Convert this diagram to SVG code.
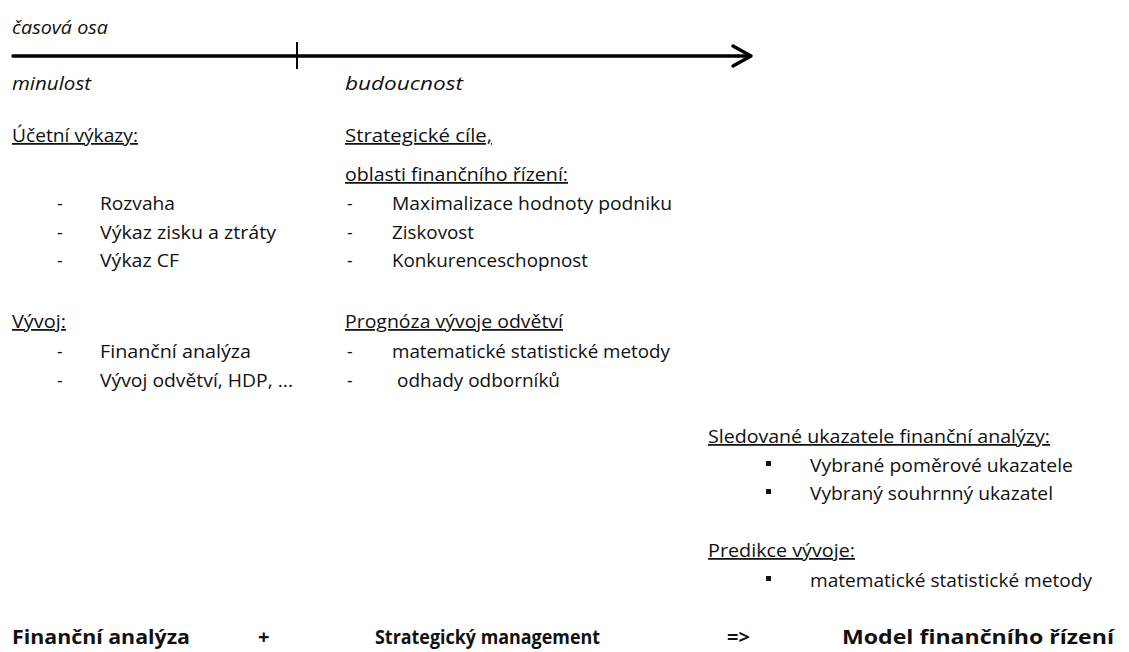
<svg xmlns="http://www.w3.org/2000/svg" width="1129" height="652" viewBox="0 0 1129 652">
<style>
text{font-family:"Open Sans","Liberation Sans",sans-serif;font-size:17.5px;fill:#111}
.i{font-style:italic}
.u{text-decoration:underline}
.b{font-weight:bold;font-size:20px}
.ax{stroke:#000;stroke-width:3.5;fill:none;stroke-linecap:round;stroke-linejoin:round}
</style>
<rect width="1129" height="652" fill="#fff"/>
<g id="connectors">
<line class="ax" x1="13" y1="56" x2="750" y2="56"/>
<polyline class="ax" points="733,46 751,56 733,66"/>
<line x1="297" y1="42" x2="297" y2="69" stroke="#000" stroke-width="2"/>
</g>
<g id="timeline-labels">
<text class="i" x="12" y="34" textLength="96" lengthAdjust="spacingAndGlyphs">časová osa</text>
<text class="i" x="12" y="90" textLength="79" lengthAdjust="spacingAndGlyphs">minulost</text>
<text class="i" x="345" y="90" textLength="118" lengthAdjust="spacingAndGlyphs">budoucnost</text>
</g>
<g id="ucetni">
<text class="u" x="12" y="142" textLength="126" lengthAdjust="spacingAndGlyphs">Účetní výkazy:</text>
<text x="57" y="210">-</text><text x="100" y="210" textLength="75" lengthAdjust="spacingAndGlyphs">Rozvaha</text>
<text x="57" y="239">-</text><text x="100" y="239" textLength="176" lengthAdjust="spacingAndGlyphs">Výkaz zisku a ztráty</text>
<text x="57" y="267">-</text><text x="100" y="267" textLength="79" lengthAdjust="spacingAndGlyphs">Výkaz CF</text>
</g>
<g id="vyvoj">
<text class="u" x="12" y="328" textLength="54" lengthAdjust="spacingAndGlyphs">Vývoj:</text>
<text x="57" y="358">-</text><text x="100" y="358" textLength="151" lengthAdjust="spacingAndGlyphs">Finanční analýza</text>
<text x="57" y="387">-</text><text x="100" y="387" textLength="193" lengthAdjust="spacingAndGlyphs">Vývoj odvětví, HDP, ...</text>
</g>
<g id="strategicke">
<text class="u" x="345" y="142" textLength="147" lengthAdjust="spacingAndGlyphs">Strategické cíle,</text>
<text class="u" x="345" y="181" textLength="223" lengthAdjust="spacingAndGlyphs">oblasti finančního řízení:</text>
<text x="347" y="210">-</text><text x="392" y="210" textLength="280" lengthAdjust="spacingAndGlyphs">Maximalizace hodnoty podniku</text>
<text x="347" y="239">-</text><text x="392" y="239" textLength="82" lengthAdjust="spacingAndGlyphs">Ziskovost</text>
<text x="347" y="267">-</text><text x="392" y="267" textLength="196" lengthAdjust="spacingAndGlyphs">Konkurenceschopnost</text>
</g>
<g id="prognoza">
<text class="u" x="345" y="328" textLength="218" lengthAdjust="spacingAndGlyphs">Prognóza vývoje odvětví</text>
<text x="347" y="358">-</text><text x="392" y="358" textLength="278" lengthAdjust="spacingAndGlyphs">matematické statistické metody</text>
<text x="347" y="387">-</text><text x="397" y="387" textLength="163" lengthAdjust="spacingAndGlyphs">odhady odborníků</text>
</g>
<g id="sledovane">
<text class="u" x="708" y="443" textLength="342" lengthAdjust="spacingAndGlyphs">Sledované ukazatele finanční analýzy:</text>
<rect x="766" y="461" width="5" height="5" fill="#111"/><text x="810" y="472" textLength="263" lengthAdjust="spacingAndGlyphs">Vybrané poměrové ukazatele</text>
<rect x="766" y="489" width="5" height="5" fill="#111"/><text x="810" y="500" textLength="243" lengthAdjust="spacingAndGlyphs">Vybraný souhrnný ukazatel</text>
</g>
<g id="predikce">
<text class="u" x="708" y="557" textLength="147" lengthAdjust="spacingAndGlyphs">Predikce vývoje:</text>
<rect x="766" y="576" width="5" height="5" fill="#111"/><text x="810" y="587" textLength="282" lengthAdjust="spacingAndGlyphs">matematické statistické metody</text>
</g>
<g id="bottom">
<text class="b" x="12" y="644" textLength="178" lengthAdjust="spacingAndGlyphs">Finanční analýza</text>
<text class="b" x="258" y="644">+</text>
<text class="b" x="375" y="644" textLength="225" lengthAdjust="spacingAndGlyphs">Strategický management</text>
<text class="b" x="727" y="644">=&gt;</text>
<text class="b" x="842" y="644" textLength="272" lengthAdjust="spacingAndGlyphs">Model finančního řízení</text>
</g>
</svg>
